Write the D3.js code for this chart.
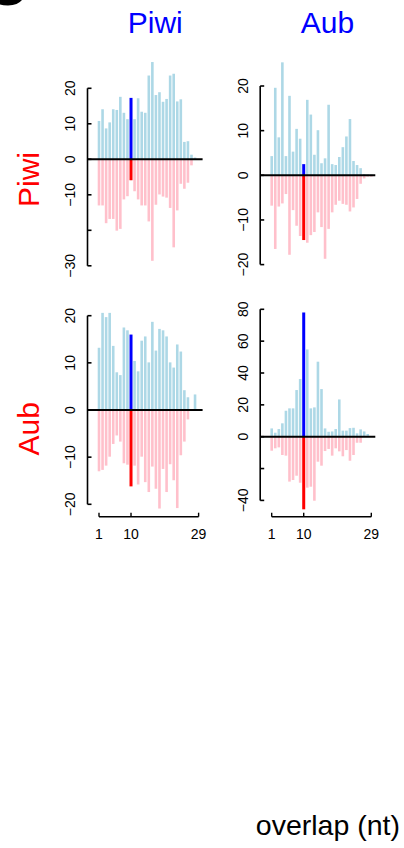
<!DOCTYPE html>
<html><head><meta charset="utf-8">
<script src="https://cdn.jsdelivr.net/npm/d3@7"></script>
<style>body{margin:0;background:#fff}svg{display:block}text{font-family:"Liberation Sans",Arial,sans-serif}</style>
</head><body>
<svg id="c" width="404" height="848"></svg>
<script>
const overlap = d3.range(1, 30);
const colLabels = ["Piwi", "Aub"];
const rowLabels = ["Piwi", "Aub"];
const xTicks = [1, 10, 29];
const highlight = 10;

const ppPos = [10.8,14.1,8.7,10.4,14.1,13.9,17.6,13.1,11.3,17.3,11.3,17.2,13.4,13.1,23.6,27.4,18.1,18.9,16.2,17.0,23.6,24.1,16.3,16.9,4.9,5.1,1.3,0.5,0];
const ppNeg = [-13.0,-13.0,-18.0,-16.8,-16.8,-20.1,-19.6,-11.3,-10.4,-5.9,-9.0,-11.3,-13.0,-13.0,-17.5,-28.6,-12.8,-9.9,-10.5,-10.8,-13.7,-24.8,-14.4,-6.9,-8.3,-6.6,-1.7,0,0];
const paPos = [4.3,19.6,8.5,25.3,4.3,17.8,5.3,10.4,8.2,2.5,16.9,13.6,4.6,10.1,2.7,3.8,15.8,2.5,2.3,4.1,6.3,8.7,12.6,3.2,2.3,1.6,0.3,0.2,0.2];
const paNeg = [-6.8,-16.5,-7.0,-6.3,-4.2,-17.8,-7.8,-11.3,-13.6,-14.5,-15.1,-13.4,-12.7,-8.3,-11.6,-18.7,-12.0,-8.3,-6.6,-5.7,-6.4,-6.6,-8.1,-7.2,-5.3,-1.9,-0.7,-0.3,-0.3];
const apPos = [13.2,20.6,19.7,20.6,13.6,8.0,7.4,17.5,16.9,16.0,10.4,8.2,14.7,15.6,10.1,18.7,12.6,17.2,16.9,15.6,10.1,9.0,13.9,12.4,4.2,2.7,0,3.3,0];
const apNeg = [-13.0,-12.7,-11.8,-9.9,-7.2,-5.4,-6.7,-11.3,-11.6,-16.2,-11.8,-15.8,-9.9,-15.3,-17.4,-12.0,-16.7,-20.9,-12.5,-17.4,-11.5,-14.9,-20.8,-9.6,-6.7,-2.0,0,0,0];
const aaPos = [5.2,2.5,4.8,8.4,16.3,17.8,17.8,29.3,36.2,78.0,54.8,17.8,18.4,47.1,29.9,5.2,3.1,3.3,4.8,23.4,3.8,3.8,5.4,5.6,2.1,4.6,3.3,1.7,0];
const aaNeg = [-8.8,-7.3,-6.7,-11.5,-11.9,-28.2,-27.2,-24.5,-28.9,-45.6,-32.0,-31.4,-40.2,-15.7,-18.2,-9.0,-7.7,-11.9,-7.3,-9.2,-12.3,-8.4,-15.1,-11.5,-3.8,-3.8,0,0,0];

const ppTicks = [20,10,0,-10,-20,-30], ppLabels = [20,10,0,-10,-30];
const paTicks = [20,10,0,-10,-20], paLabels = [20,10,0,-10,-20];
const apTicks = [20,10,0,-10,-20], apLabels = [20,10,0,-10,-20];
const aaTicks = [80,60,40,20,0,-20,-40], aaLabels = [80,60,40,20,0,-40];

// layout (pixel geometry of each panel)
const panels = [
  {row:0,col:0,pos:ppPos,neg:ppNeg,ticks:ppTicks,labels:ppLabels,x1:99,  y0:159.3,yRef:20,yRefPx:88.3},
  {row:0,col:1,pos:paPos,neg:paNeg,ticks:paTicks,labels:paLabels,x1:271.7,y0:175.3,yRef:20,yRefPx:86},
  {row:1,col:0,pos:apPos,neg:apNeg,ticks:apTicks,labels:apLabels,x1:99,  y0:410,  yRef:20,yRefPx:315.7},
  {row:1,col:1,pos:aaPos,neg:aaNeg,ticks:aaTicks,labels:aaLabels,x1:271.7,y0:436.7,yRef:80,yRefPx:309.3}
];

const svg = d3.select("#c");
const fmt = v => v < 0 ? "\u2212" + Math.abs(v) : String(v);

// corner fragment
svg.append("path").attr("d","M0,0 L22,0 Q18,5 8,5.5 Q3,5.5 0,4.5 Z").attr("fill","#000");

panels.forEach(p => {
  const x = d3.scaleLinear().domain([1,29]).range([p.x1, p.x1 + 99.6]);
  const y = d3.scaleLinear().domain([0,p.yRef]).range([p.y0, p.yRefPx]);
  const g = svg.append("g");
  const data = overlap.map((o,i)=>({o, pos:p.pos[i], neg:p.neg[i]}));
  g.selectAll(".n").data(data).join("line")
    .attr("x1",d=>x(d.o)).attr("x2",d=>x(d.o))
    .attr("y1",y(0)).attr("y2",d=>y(d.neg))
    .attr("stroke",d=>d.o===highlight?"#ff0000":"#ffc0cb")
    .attr("stroke-width",d=>d.o===highlight?3:2.6);
  g.selectAll(".p").data(data).join("line")
    .attr("x1",d=>x(d.o)).attr("x2",d=>x(d.o))
    .attr("y1",y(0)).attr("y2",d=>y(d.pos))
    .attr("stroke",d=>d.o===highlight?"#0000ff":"#add8e6")
    .attr("stroke-width",d=>d.o===highlight?3:2.6);
  const ax = p.x1 - 11.5;
  g.append("line").attr("x1",ax).attr("x2",x(29)+4).attr("y1",y(0)).attr("y2",y(0))
    .attr("stroke","#000").attr("stroke-width",2);
  const ya = g.append("g");
  ya.append("line").attr("x1",ax).attr("x2",ax)
    .attr("y1",y(d3.max(p.ticks))).attr("y2",y(d3.min(p.ticks)))
    .attr("stroke","#000").attr("stroke-width",1.6);
  ya.selectAll(".t").data(p.ticks).join("line")
    .attr("x1",ax).attr("x2",ax+4).attr("y1",d=>y(d)).attr("y2",d=>y(d))
    .attr("stroke","#000").attr("stroke-width",1.6);
  ya.selectAll(".l").data(p.labels).join("text")
    .attr("transform",d=>`translate(${ax-12.5},${y(d)}) rotate(-90)`)
    .attr("text-anchor","middle").attr("font-size",14).text(fmt);
  if (p.row === 1) {
    const xy = 516.7;
    const xa = g.append("g");
    xa.append("line").attr("x1",x(1)).attr("x2",x(29)).attr("y1",xy).attr("y2",xy)
      .attr("stroke","#000").attr("stroke-width",1.4);
    xa.selectAll(".t").data(xTicks).join("line")
      .attr("x1",d=>x(d)).attr("x2",d=>x(d)).attr("y1",xy).attr("y2",xy-4)
      .attr("stroke","#000").attr("stroke-width",1.4);
    xa.selectAll(".l").data(xTicks).join("text")
      .attr("x",d=>x(d)).attr("y",539).attr("text-anchor","middle")
      .attr("font-size",14).text(d=>d);
  }
});

const colX = [155.3, 327.5];
svg.selectAll(".ch").data(colLabels).join("text")
  .attr("x",(d,i)=>colX[i]).attr("y",33).attr("text-anchor","middle")
  .attr("font-size",30).attr("fill","#0000ff").text(d=>d);
const rowY = [179.5, 428.8];
svg.selectAll(".rh").data(rowLabels).join("text")
  .attr("transform",(d,i)=>`translate(39.3,${rowY[i]}) rotate(-90)`)
  .attr("text-anchor","middle").attr("font-size",30).attr("fill","#ff0000").text(d=>d);

svg.append("text").attr("x",400).attr("y",835).attr("text-anchor","end")
  .attr("font-size",28.5).text("overlap (nt)");
</script>
</body></html>
